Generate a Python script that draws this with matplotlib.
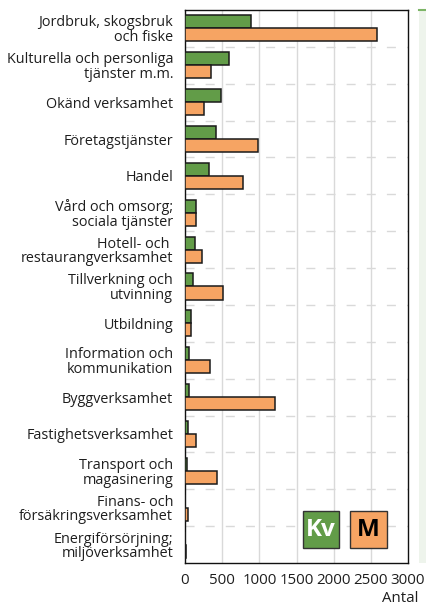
import matplotlib
matplotlib.use("Agg")
import matplotlib.pyplot as plt
from matplotlib.patches import Rectangle
from matplotlib.lines import Line2D
import numpy as np

plt.rcParams['font.family'] = ['Open Sans', 'DejaVu Sans']

categories = [
    "Jordbruk, skogsbruk\noch fiske",
    "Kulturella och personliga\ntjänster m.m.",
    "Okänd verksamhet",
    "Företagstjänster",
    "Handel",
    "Vård och omsorg;\nsociala tjänster",
    "Hotell- och \nrestaurangverksamhet",
    "Tillverkning och\nutvinning",
    "Utbildning",
    "Information och\nkommunikation",
    "Byggverksamhet",
    "Fastighetsverksamhet",
    "Transport och\nmagasinering",
    "Finans- och\nförsäkringsverksamhet",
    "Energiförsörjning;\nmiljöverksamhet",
]
kv = [884, 588, 480, 413, 327, 144, 139, 112, 76, 54, 49, 45, 31, 5, 3]
m = [2588, 345, 256, 987, 781, 152, 233, 516, 85, 332, 1207, 148, 435, 36, 10]
xticks = [0, 500, 1000, 1500, 2000, 2500, 3000]
xlabel = "Antal"
legend_labels = ["Kv", "M"]

green = '#629c48'
orange = '#f6a463'

W, H = 426, 605
fig = plt.figure(figsize=(W / 100, H / 100), dpi=100)
ax = fig.add_axes([185 / W, 1 - 563 / H, (408 - 185) / W, (563 - 10) / H])

# right light-green panel
fig.add_artist(Rectangle((419 / W, 1 - 563 / H), 8 / W, 553 / H,
                         transform=fig.transFigure, facecolor='#eef4ec',
                         edgecolor='none', zorder=0))
fig.add_artist(Line2D([419 / W, 1], [1 - 10 / H, 1 - 10 / H],
                      transform=fig.transFigure, color='#7db567', lw=1.5))

y = np.arange(len(categories))
h = 0.353
ax.barh(y - h / 2, kv, height=h, color=green, edgecolor='#1a1a1a', linewidth=1.1, zorder=3)
ax.barh(y + h / 2, m, height=h, color=orange, edgecolor='#1a1a1a', linewidth=1.1, zorder=3)

ax.set_ylim(len(categories) - 0.5, -0.5)
ax.set_xlim(0, 3000)
ax.set_yticks(y)
ax.set_yticklabels(categories, fontsize=10.4, linespacing=0.98)
ax.set_xticks(xticks)
ax.set_xticklabels([str(t) for t in xticks], fontsize=10.8)
ax.tick_params(axis='y', length=0, pad=8.5, colors='#1e1e1e')
ax.tick_params(axis='x', length=0, pad=7, colors='#1e1e1e')

for t in xticks[1:-1]:
    ax.axvline(t, color='#d9d9d9', lw=1.0, zorder=1)
for k in range(len(categories) - 1):
    ax.axhline(k + 0.5, color='#d9d9d9', lw=1.0, dashes=(6.5, 8), zorder=1)

for s in ax.spines.values():
    s.set_linewidth(1.0)
    s.set_color('#111111')

fig.text(418 / W, 1 - 598 / H, xlabel, ha='right', va='center', fontsize=10.8, color='#1e1e1e')

# legend boxes
for (x0, lab, col, tcol) in [(302.5, legend_labels[0], green, 'white'),
                              (350, legend_labels[1], orange, 'black')]:
    fig.add_artist(Rectangle((x0 / W, 1 - 548 / H), 36.5 / W, 37 / H,
                             transform=fig.transFigure, facecolor=col,
                             edgecolor='#333333', lw=1.0, zorder=5))
    fig.text((x0 + 18.5) / W, 1 - 529.5 / H, lab, ha='center', va='center',
             fontsize=17.5, fontweight='bold', color=tcol, zorder=6)

fig.savefig('out.png', dpi=100)
